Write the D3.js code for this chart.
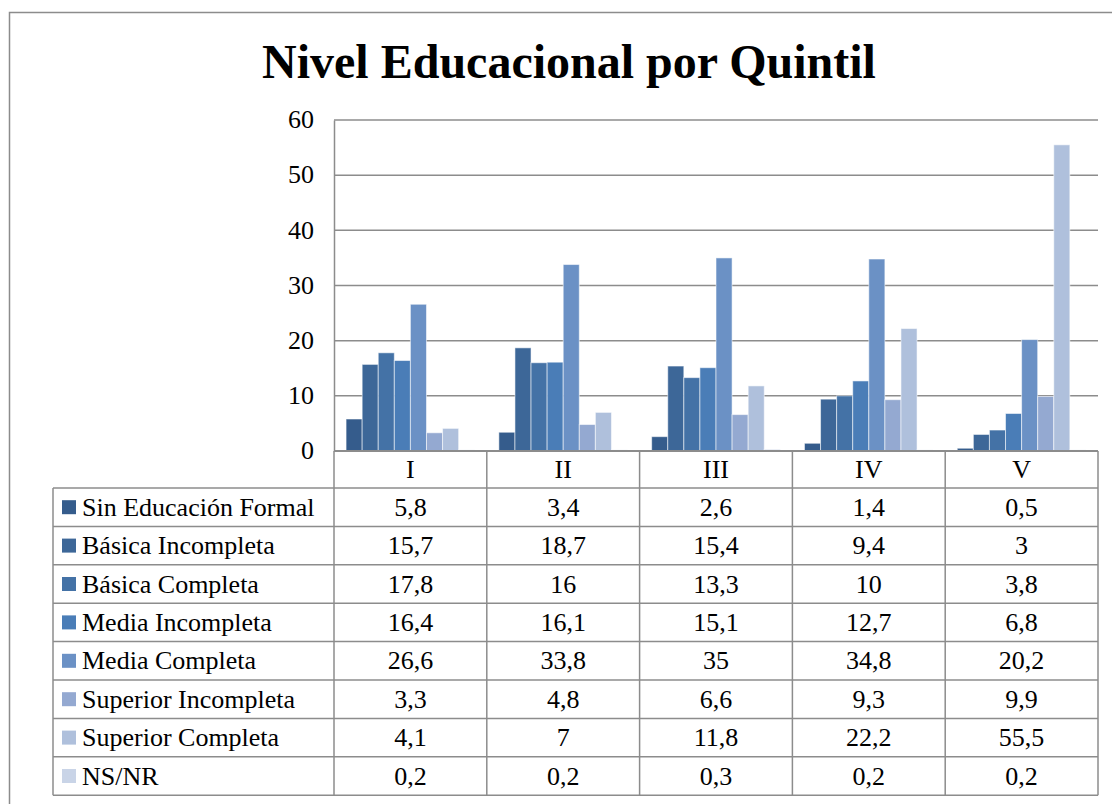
<!DOCTYPE html>
<html>
<head>
<meta charset="utf-8">
<script src="https://cdn.jsdelivr.net/npm/d3@7"></script>
<style>
  body { margin: 0; background: #fff; }
  svg text { font-family: "Liberation Serif", "Times New Roman", serif; fill: #000; }
</style>
</head>
<body>
<div id="chart"></div>
<script>
const quintiles = ["I", "II", "III", "IV", "V"]
const series_names = [
  "Sin Educación Formal", "Básica Incompleta", "Básica Completa", "Media Incompleta",
  "Media Completa", "Superior Incompleta", "Superior Completa", "NS/NR"
]
const sin_educacion = [5.8, 3.4, 2.6, 1.4, 0.5]
const basica_incompleta = [15.7, 18.7, 15.4, 9.4, 3]
const basica_completa = [17.8, 16, 13.3, 10, 3.8]
const media_incompleta = [16.4, 16.1, 15.1, 12.7, 6.8]
const media_completa = [26.6, 33.8, 35, 34.8, 20.2]
const superior_incompleta = [3.3, 4.8, 6.6, 9.3, 9.9]
const superior_completa = [4.1, 7, 11.8, 22.2, 55.5]
const ns_nr = [0.2, 0.2, 0.3, 0.2, 0.2]
const y_ticks = [0, 10, 20, 30, 40, 50, 60]

const values = [sin_educacion, basica_incompleta, basica_completa, media_incompleta,
  media_completa, superior_incompleta, superior_completa, ns_nr]
const colors = ["#355c8c", "#3d6798", "#4472a6", "#4a7db7", "#6b91c5", "#94a9d1", "#afc0dc", "#c9d4e7"]

const width = 1112, height = 804
const plot = { left: 334, right: 1098, top: 120, bottom: 451 }
const row_h = 38.4
const table_top = 488
const label_left = 53
const grid_color = "#8c8c8c"
const font_size = "26px"

const fmt = v => String(v).replace(".", ",")

const svg = d3.select("#chart").append("svg")
  .attr("width", width)
  .attr("height", height)

// outer frame
svg.append("rect")
  .attr("x", 9.5).attr("y", 12.5)
  .attr("width", 1120).attr("height", 820)
  .attr("fill", "none")
  .attr("stroke", grid_color)
  .attr("stroke-width", 1.5)

svg.append("text")
  .attr("x", 569).attr("y", 78)
  .attr("text-anchor", "middle")
  .attr("font-weight", "bold")
  .style("font-size", "48px")
  .text("Nivel Educacional por Quintil")

const x = d3.scaleBand().domain(quintiles).range([plot.left, plot.right])
const x_inner = d3.scaleBand().domain(d3.range(series_names.length))
  .range([0, x.bandwidth()])
  .paddingOuter(0.75)
const y = d3.scaleLinear().domain([0, 60]).range([plot.bottom, plot.top])

// gridlines
svg.append("g")
  .selectAll("line")
  .data(y_ticks.slice(1))
  .join("line")
  .attr("x1", plot.left).attr("x2", plot.right)
  .attr("y1", d => y(d)).attr("y2", d => y(d))
  .attr("stroke", grid_color)
  .attr("stroke-width", 1.5)

// y axis
const y_axis = svg.append("g")
  .attr("transform", `translate(${plot.left},0)`)
  .call(d3.axisLeft(y).tickValues(y_ticks).tickSize(0).tickPadding(20))
y_axis.select(".domain").attr("stroke", grid_color).attr("stroke-width", 1.5)
y_axis.selectAll("text")
  .style("font-family", "Liberation Serif, serif")
  .style("font-size", font_size)
  .attr("dy", "0.3em")

// bars
const groups = svg.append("g")
  .selectAll("g")
  .data(values)
  .join("g")
  .attr("fill", (d, i) => colors[i])

groups.selectAll("rect")
  .data((d, i) => d.map((v, j) => ({ v, q: quintiles[j], s: i })))
  .join("rect")
  .attr("x", d => x(d.q) + x_inner(d.s))
  .attr("width", x_inner.bandwidth())
  .attr("y", d => y(d.v))
  .attr("height", d => y(0) - y(d.v))
  .attr("stroke", "rgba(255,255,255,0.55)")
  .attr("stroke-width", 1)

// data table
const table = svg.append("g")
const table_bottom = table_top + row_h * series_names.length

table.append("line")
  .attr("x1", plot.left).attr("x2", plot.right)
  .attr("y1", plot.bottom).attr("y2", plot.bottom)
  .attr("stroke", grid_color).attr("stroke-width", 2)
table.selectAll(".hline")
  .data(d3.range(series_names.length + 1))
  .join("line")
  .attr("class", "hline")
  .attr("x1", label_left).attr("x2", plot.right)
  .attr("y1", d => table_top + d * row_h).attr("y2", d => table_top + d * row_h)
  .attr("stroke", grid_color).attr("stroke-width", 1.5)

table.append("line")
  .attr("x1", label_left).attr("x2", label_left)
  .attr("y1", table_top).attr("y2", table_bottom)
  .attr("stroke", grid_color).attr("stroke-width", 1.5)
table.selectAll(".vline")
  .data(quintiles.map(q => x(q)).concat([plot.right]))
  .join("line")
  .attr("class", "vline")
  .attr("x1", d => d).attr("x2", d => d)
  .attr("y1", plot.bottom).attr("y2", table_bottom)
  .attr("stroke", grid_color).attr("stroke-width", 1.5)

table.selectAll(".head")
  .data(quintiles)
  .join("text")
  .attr("class", "head")
  .attr("x", d => x(d) + x.bandwidth() / 2)
  .attr("y", (plot.bottom + table_top) / 2)
  .attr("dy", "0.33em")
  .attr("text-anchor", "middle")
  .style("font-size", font_size)
  .text(d => d)

const rows = table.selectAll(".row")
  .data(series_names)
  .join("g")
  .attr("class", "row")
  .attr("transform", (d, i) => `translate(0,${table_top + i * row_h + row_h / 2})`)

rows.append("rect")
  .attr("x", 62).attr("y", -7)
  .attr("width", 14).attr("height", 14)
  .attr("fill", (d, i) => colors[i])

rows.append("text")
  .attr("x", 82)
  .attr("dy", "0.33em")
  .style("font-size", font_size)
  .text(d => d)

rows.selectAll(".val")
  .data((d, i) => values[i].map((v, j) => ({ v, q: quintiles[j] })))
  .join("text")
  .attr("class", "val")
  .attr("x", d => x(d.q) + x.bandwidth() / 2)
  .attr("dy", "0.33em")
  .attr("text-anchor", "middle")
  .style("font-size", font_size)
  .text(d => fmt(d.v))
</script>
</body>
</html>
